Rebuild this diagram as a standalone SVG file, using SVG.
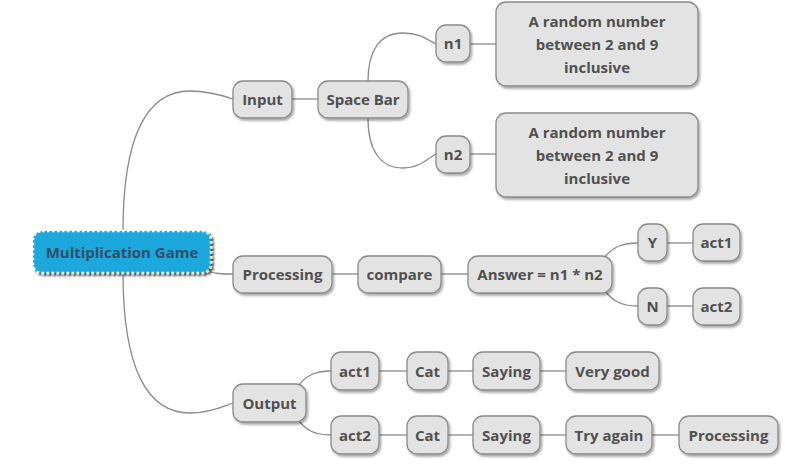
<svg xmlns="http://www.w3.org/2000/svg" width="785" height="470" viewBox="0 0 785 470">
<defs>
<filter id="sh" x="-20%" y="-20%" width="150%" height="160%">
<feDropShadow dx="1.5" dy="2" stdDeviation="1.2" flood-color="#000" flood-opacity="0.35"/>
</filter>
<filter id="shr" x="-20%" y="-20%" width="150%" height="160%">
<feDropShadow dx="2" dy="2" stdDeviation="1" flood-color="#000" flood-opacity="0.7"/>
</filter>
</defs>
<style>
.n rect{fill:#e3e3e3;stroke:#8a8a8a;stroke-width:1.3;filter:url(#sh)}
.n text{font-family:"Open Sans","Noto Sans","DejaVu Sans",sans-serif;font-weight:700;font-size:15px;fill:#505050;text-anchor:middle}
.root rect{fill:#1ea7dd;stroke:#fff;stroke-width:2.5;stroke-dasharray:2.5 2.5;filter:url(#shr)}
.root text{font-family:"Open Sans","Noto Sans","DejaVu Sans",sans-serif;font-weight:700;font-size:15px;fill:#2f5068;text-anchor:middle}
#connectors path{fill:none;stroke:#8a8a8a;stroke-width:1.3}
</style>
<rect width="785" height="470" fill="#fff"/>
<g id="connectors">
<path d="M123,231 C123,140 145,91 190,91 C210,91 224,96 233,99"/>
<path d="M205,270 C215,274 222,274 233,274"/>
<path d="M123,273 C123,370 148,413 190,413 C210,413 224,406 233,403"/>
<path d="M292,99 L318,99"/>
<path d="M368,81 C368,50 380,33 403,33 C420,33 428,40 436,44"/>
<path d="M368,118 C368,150 380,168 403,168 C420,168 428,158 436,154"/>
<path d="M470,44 L496,44"/>
<path d="M470,154 L496,154"/>
<path d="M332,274 L358,274"/>
<path d="M441,274 L468,274"/>
<path d="M604,258 C612,248 620,243 638,243"/>
<path d="M604,290 C612,300 620,306 638,306"/>
<path d="M667,243 L693,243"/>
<path d="M667,306 L693,306"/>
<path d="M298,386 C306,376 314,371 331,371"/>
<path d="M298,420 C306,430 314,435 331,435"/>
<path d="M379,371 L407,371"/>
<path d="M448,371 L473,371"/>
<path d="M540,371 L566,371"/>
<path d="M379,435 L407,435"/>
<path d="M448,435 L473,435"/>
<path d="M540,435 L566,435"/>
<path d="M652,435 L679,435"/>
</g>
<g id="root" class="root"><rect x="33" y="231" width="178" height="42" rx="9"/><text x="122" y="257.5">Multiplication Game</text></g>
<g id="input" class="n"><rect x="233" y="81" width="59" height="37" rx="10"/><text x="262.5" y="104.5">Input</text></g>
<g id="spacebar" class="n"><rect x="318" y="81" width="90" height="37" rx="10"/><text x="363" y="104.5">Space Bar</text></g>
<g id="n1" class="n"><rect x="436" y="25" width="34" height="37" rx="10"/><text x="453" y="49">n1</text></g>
<g id="n1desc" class="n"><rect x="496" y="2" width="202" height="84" rx="10"/><text x="597" y="26.5">A random number</text><text x="597" y="49.5">between 2 and 9</text><text x="597" y="72.5">inclusive</text></g>
<g id="n2" class="n"><rect x="436" y="136" width="34" height="37" rx="10"/><text x="453" y="159.5">n2</text></g>
<g id="n2desc" class="n"><rect x="496" y="113" width="202" height="84" rx="10"/><text x="597" y="137.5">A random number</text><text x="597" y="160.5">between 2 and 9</text><text x="597" y="183.5">inclusive</text></g>
<g id="processing" class="n"><rect x="233" y="256" width="99" height="37" rx="10"/><text x="282.5" y="279.5">Processing</text></g>
<g id="compare" class="n"><rect x="358" y="256" width="83" height="37" rx="10"/><text x="399.5" y="279.5">compare</text></g>
<g id="answer" class="n"><rect x="468" y="256" width="144" height="37" rx="10"/><text x="540" y="279.5">Answer = n1 * n2</text></g>
<g id="y" class="n"><rect x="638" y="224" width="29" height="37" rx="10"/><text x="652.5" y="247.5">Y</text></g>
<g id="yact1" class="n"><rect x="693" y="224" width="47" height="37" rx="10"/><text x="716.5" y="247.5">act1</text></g>
<g id="nn" class="n"><rect x="638" y="288" width="29" height="37" rx="10"/><text x="652.5" y="311.5">N</text></g>
<g id="nact2" class="n"><rect x="693" y="288" width="47" height="37" rx="10"/><text x="716.5" y="311.5">act2</text></g>
<g id="output" class="n"><rect x="233" y="384" width="73" height="38" rx="10"/><text x="269.5" y="408.5">Output</text></g>
<g id="oact1" class="n"><rect x="331" y="352" width="48" height="38" rx="10"/><text x="355" y="376.5">act1</text></g>
<g id="cat1" class="n"><rect x="407" y="352" width="41" height="38" rx="10"/><text x="427.5" y="376.5">Cat</text></g>
<g id="saying1" class="n"><rect x="473" y="352" width="67" height="38" rx="10"/><text x="506.5" y="376.5">Saying</text></g>
<g id="verygood" class="n"><rect x="566" y="352" width="93" height="38" rx="10"/><text x="612.5" y="376.5">Very good</text></g>
<g id="oact2" class="n"><rect x="331" y="416" width="48" height="38" rx="10"/><text x="355" y="440.5">act2</text></g>
<g id="cat2" class="n"><rect x="407" y="416" width="41" height="38" rx="10"/><text x="427.5" y="440.5">Cat</text></g>
<g id="saying2" class="n"><rect x="473" y="416" width="67" height="38" rx="10"/><text x="506.5" y="440.5">Saying</text></g>
<g id="tryagain" class="n"><rect x="566" y="416" width="86" height="38" rx="10"/><text x="609" y="440.5">Try again</text></g>
<g id="processing2" class="n"><rect x="679" y="416" width="99" height="38" rx="10"/><text x="728.5" y="440.5">Processing</text></g>
</svg>
